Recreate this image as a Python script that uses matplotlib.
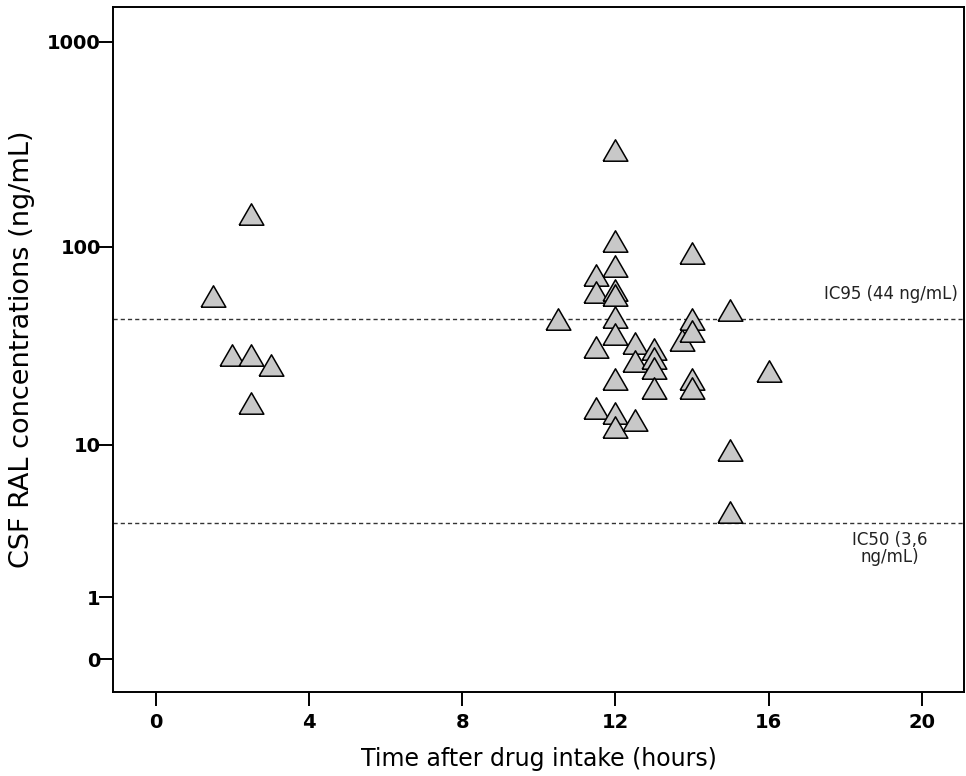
import numpy as np
import matplotlib
matplotlib.use("Agg")
import matplotlib.pyplot as plt

# time after intake (hours) and CSF raltegravir concentration (ng/mL)
hours = [1.5, 2.0, 2.5, 2.5, 3.0, 2.5,
         10.5,
         11.5, 11.5, 11.5, 11.5,
         12, 12, 12, 12, 12, 12, 12, 12, 12, 12,
         12.5, 12.5, 12.5,
         13, 13, 13, 13,
         13.75,
         14, 14, 14, 14, 14,
         15, 15, 15,
         16]
conc = [57, 29, 29, 145, 26, 16.5,
        44,
        73, 60, 32, 15.7,
        297, 107, 80, 61, 58, 45, 37, 22, 14.7, 12.5,
        33.5, 27, 13.6,
        31, 28, 25, 19.8,
        34.6,
        93, 44, 38.5, 22, 19.8,
        49, 9.4, 4.2,
        24]

ic95 = 44
ic50 = 3.6
y_ticks = [0, 1, 10, 100, 1000]
x_ticks = [0, 4, 8, 12, 16, 20]


def fwd(v):
    return np.log10(np.clip(np.asarray(v, dtype=float) + 1, 1e-6, None))


def inv(t):
    return 10 ** np.asarray(t, dtype=float) - 1


fig = plt.figure(figsize=(9.66, 7.76), dpi=100)
ax = fig.add_axes([0.1173, 0.1082, 0.998 - 0.1173, 0.9906 - 0.1082])

ax.set_yscale("function", functions=(fwd, inv))

tri = [(-1, -0.866), (1, -0.866), (0, 0.866), (-1, -0.866)]
ax.scatter(hours, conc, marker=tri, s=17.8 ** 2, facecolor="#c8c8c8",
           edgecolor="black", linewidths=1.1, zorder=3)

ax.axhline(ic95, color="#333333", lw=1.0, ls=(0, (3, 2.2)), zorder=1)
ax.axhline(ic50, color="#333333", lw=1.0, ls=(0, (3, 2.2)), zorder=1)

ax.text(20.95, inv(fwd(ic95) + 0.12), "IC95 (44 ng/mL)", ha="right",
        va="center", fontsize=12, family="DejaVu Sans", color="#222222")
ax.text(19.17, inv(fwd(ic50) - 0.125), "IC50 (3,6\nng/mL)", ha="center",
        va="center", fontsize=12, family="DejaVu Sans", color="#222222",
        linespacing=0.95)

ax.set_xlim(-1.107, 21.1)
ax.set_ylim(inv(-0.160), inv(3.168))
ax.set_xticks(x_ticks)
ax.set_xticklabels([str(v) for v in x_ticks])
ax.set_yticks(y_ticks)
ax.set_yticklabels([str(v) for v in y_ticks])
ax.minorticks_off()

for lab in ax.get_xticklabels() + ax.get_yticklabels():
    lab.set_fontweight("bold")
    lab.set_fontsize(14)
    lab.set_family("DejaVu Sans")

ax.tick_params(direction="out", length=10, width=1.4)
ax.tick_params(axis="y", pad=-1)
ax.tick_params(axis="x", pad=5)
for s in ax.spines.values():
    s.set_linewidth(1.4)

ax.set_xlabel("Time after drug intake (hours)", fontsize=17,
              family="DejaVu Sans", labelpad=11)
ax.set_ylabel("CSF RAL concentrations (ng/mL)", fontsize=19.5,
              family="DejaVu Sans", labelpad=9)

fig.savefig("out.png", dpi=100)
